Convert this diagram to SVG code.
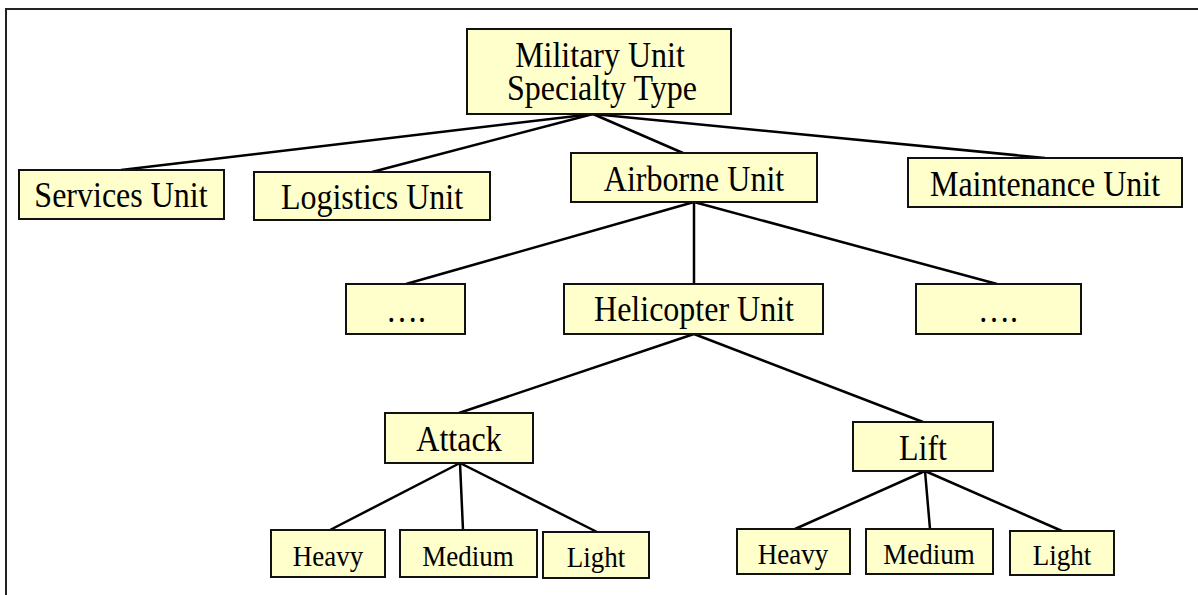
<svg xmlns="http://www.w3.org/2000/svg" width="1198" height="595" viewBox="0 0 1198 595">
<style>
.box{fill:#FFFFCC;stroke:#111;stroke-width:2}
.t,.s{font-family:"Liberation Serif","Times New Roman",serif;fill:#000;text-anchor:middle;transform-box:fill-box;transform-origin:center;transform:scaleY(1.1)}
.t{font-size:32px}
.s{font-size:27px}
.c line{stroke:#000;stroke-width:2.5}
</style>
<rect x="6" y="9" width="1200" height="600" fill="#fff" stroke="#222" stroke-width="2"/>
<g class="c" id="connectors">
<line x1="593" y1="114" x2="121" y2="170"/>
<line x1="593" y1="114" x2="372" y2="172"/>
<line x1="593" y1="114" x2="683" y2="153"/>
<line x1="593" y1="114" x2="1045" y2="158"/>
<line x1="694" y1="202" x2="406" y2="284"/>
<line x1="694" y1="202" x2="694" y2="284"/>
<line x1="694" y1="202" x2="997" y2="284"/>
<line x1="694" y1="334" x2="459" y2="413"/>
<line x1="694" y1="334" x2="923" y2="422"/>
<line x1="460" y1="463" x2="330" y2="530"/>
<line x1="460" y1="463" x2="463" y2="530"/>
<line x1="460" y1="463" x2="597" y2="532"/>
<line x1="925" y1="471" x2="795" y2="529"/>
<line x1="925" y1="471" x2="930" y2="529"/>
<line x1="925" y1="471" x2="1062" y2="531"/>
</g>
<g id="root"><rect class="box" x="467" y="29" width="264" height="85"/><text class="t"><tspan x="600" y="67">Military Unit</tspan><tspan x="602" y="97">Specialty Type</tspan></text></g>
<g id="services"><rect class="box" x="19" y="170" width="205" height="49"/><text class="t" x="121" y="206">Services Unit</text></g>
<g id="logistics"><rect class="box" x="254" y="172" width="236" height="48"/><text class="t" x="372" y="208">Logistics Unit</text></g>
<g id="airborne"><rect class="box" x="571" y="153" width="246" height="49"/><text class="t" x="694" y="190">Airborne Unit</text></g>
<g id="maintenance"><rect class="box" x="908" y="158" width="274" height="49"/><text class="t" x="1045" y="195">Maintenance Unit</text></g>
<g id="dots-left"><rect class="box" x="346" y="284" width="119" height="50"/><text class="t" x="406" y="321">….</text></g>
<g id="helicopter"><rect class="box" x="564" y="284" width="259" height="50"/><text class="t" x="694" y="320">Helicopter Unit</text></g>
<g id="dots-right"><rect class="box" x="916" y="284" width="165" height="50"/><text class="t" x="998" y="321">….</text></g>
<g id="attack"><rect class="box" x="385" y="413" width="148" height="50"/><text class="t" x="459" y="450">Attack</text></g>
<g id="lift"><rect class="box" x="853" y="422" width="140" height="49"/><text class="t" x="923" y="459">Lift</text></g>
<g id="attack-heavy"><rect class="box" x="271" y="530" width="114" height="47"/><text class="s" x="328" y="565">Heavy</text></g>
<g id="attack-medium"><rect class="box" x="400" y="530" width="137" height="47"/><text class="s" x="468" y="565">Medium</text></g>
<g id="attack-light"><rect class="box" x="543" y="532" width="106" height="46"/><text class="s" x="596" y="566">Light</text></g>
<g id="lift-heavy"><rect class="box" x="737" y="529" width="113" height="45"/><text class="s" x="793" y="563">Heavy</text></g>
<g id="lift-medium"><rect class="box" x="866" y="529" width="127" height="45"/><text class="s" x="929" y="563">Medium</text></g>
<g id="lift-light"><rect class="box" x="1010" y="531" width="104" height="44"/><text class="s" x="1062" y="564">Light</text></g>
</svg>
